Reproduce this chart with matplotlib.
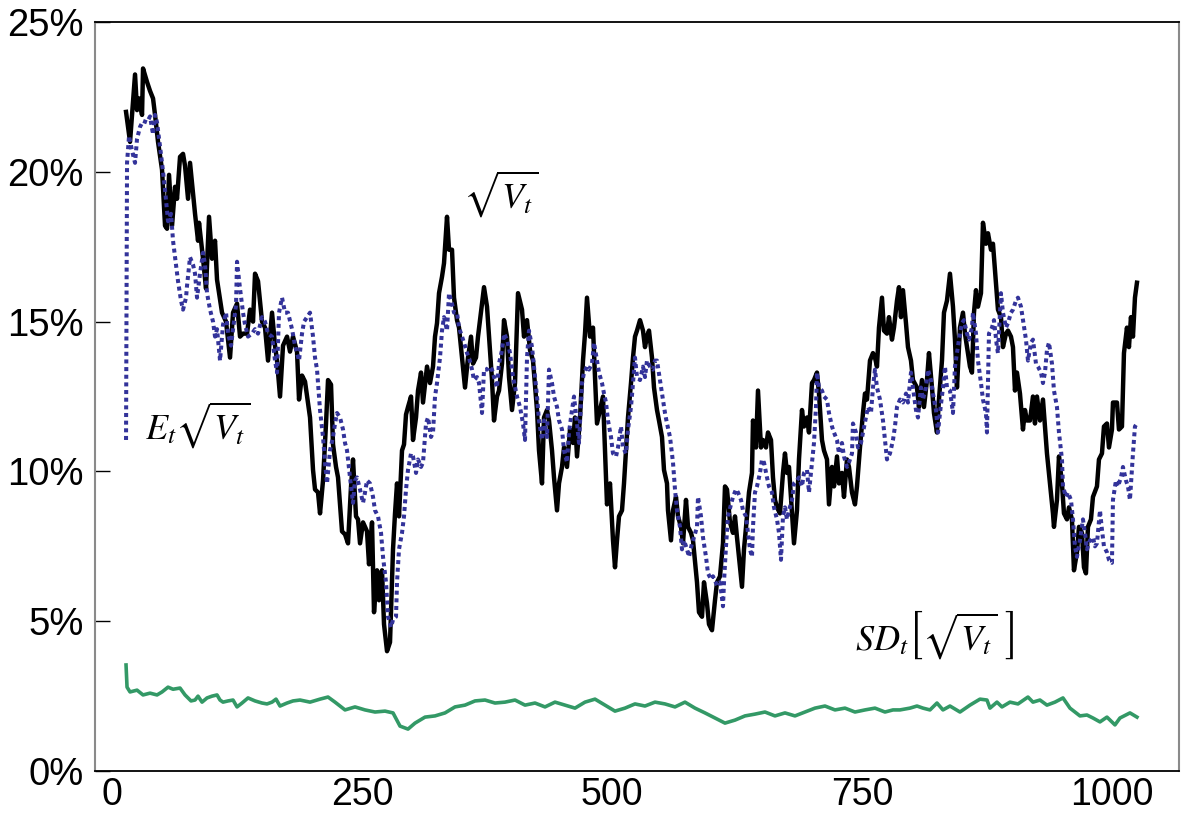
import matplotlib
matplotlib.use("Agg")
import matplotlib.pyplot as plt
from matplotlib.ticker import FuncFormatter

# ---------------- data (values in percent) ----------------
t_black = [14,18,23,25,27,30,31,35,38,41,
           43,46,50,53,55,57,60,63,65,68,
           71,73,76,78,83,86,87,91,94,97,
           100,103,105,110,114,118,121,125,128,131,
           135,138,141,143,146,150,153,156,160,163,
           165,168,171,175,178,181,185,187,190,193,
           198,201,203,206,208,211,214,216,219,221,
           224,226,230,233,236,239,241,244,246,248,
           251,255,257,260,262,265,267,270,272,275,
           278,281,283,285,287,290,292,294,296,299,
           301,304,306,309,311,313,315,318,321,323,
           325,327,330,332,335,337,340,342,345,347,
           350,353,356,359,361,364,366,370,372,375,
           377,380,382,385,387,390,392,395,397,400,
           403,406,410,412,415,418,421,425,427,430,
           432,435,437,440,442,445,447,450,452,455,
           458,461,463,465,468,471,473,475,478,481,
           483,485,488,491,493,495,498,501,503,505,
           507,510,512,514,516,519,521,523,525,528,
           531,533,535,537,540,542,545,547,550,552,
           555,556,559,561,564,566,569,571,574,576,
           579,581,585,587,590,592,595,597,600,603,
           605,608,611,613,615,618,621,623,625,628,
           630,632,635,637,640,641,644,646,649,651,
           654,656,659,661,663,665,668,671,673,675,
           677,680,682,685,687,690,692,695,697,700,
           702,705,707,710,712,715,717,720,722,725,
           727,730,732,735,737,740,743,745,748,751,
           753,755,758,761,763,765,767,770,772,775,
           777,780,782,785,787,789,791,794,796,799,
           801,805,807,810,812,815,817,820,822,825,
           827,830,832,835,838,841,843,845,848,851,
           853,855,858,860,862,864,866,869,871,874,
           876,879,881,884,886,889,891,894,896,899,
           901,903,905,908,911,913,915,918,921,923,
           925,928,931,933,935,938,941,942,945,947,
           950,952,955,957,960,962,965,967,970,972,
           974,976,979,981,985,987,990,992,995,997,
           1000,1001,1005,1007,1010,1012,1015,1017,1019,1021,
           1023,1025]
v_black = [22.0,21.0,23.25,22.06,22.45,21.9,23.45,23.0,22.7,22.45,
           21.9,21.0,20.07,18.2,18.1,19.9,18.2,19.5,19.1,20.5,
           20.6,20.2,19.1,20.3,18.6,17.7,18.3,17.1,16.1,18.5,
           17.1,17.7,16.4,15.3,15.0,13.8,15.3,15.6,14.5,14.6,
           14.6,15.4,15.0,16.6,16.35,15.0,14.8,13.7,15.3,14.2,
           13.7,12.5,14.2,14.5,14.0,14.5,14.0,12.4,13.2,13.0,
           11.8,10.05,9.4,9.3,8.6,9.7,11.6,13.05,12.9,10.9,
           10.15,9.8,8.0,7.9,7.6,9.5,10.4,8.5,8.4,7.6,
           8.3,8.0,6.9,8.3,5.3,6.7,5.7,6.7,4.9,4.0,
           4.3,7.4,8.6,9.6,8.5,10.7,10.9,11.9,12.15,12.5,
           11.05,11.8,12.7,13.3,12.3,12.9,13.5,12.95,13.5,14.5,
           14.95,15.95,16.5,16.95,18.5,17.4,17.4,15.8,15.05,14.8,
           13.8,12.8,13.8,14.5,13.6,13.8,14.5,15.6,16.15,15.5,
           14.5,13.05,11.7,12.5,12.7,13.6,15.05,14.5,13.15,12.05,
           12.95,15.95,15.4,14.5,15.05,14.05,13.7,12.05,10.7,9.6,
           11.8,12.05,11.7,10.7,9.8,8.7,9.6,10.15,10.8,10.15,
           11.4,10.95,11.8,10.5,11.8,13.7,14.6,15.8,14.5,14.8,
           13.15,11.6,12.05,12.5,10.7,8.9,9.6,7.7,6.8,7.7,
           8.5,8.7,9.6,10.7,11.8,12.95,13.8,14.5,14.7,15.05,
           14.7,14.15,14.5,14.7,13.8,12.8,12.05,11.7,11.15,10.05,
           9.6,8.7,7.7,8.7,9.15,8.5,8.15,7.6,9.05,8.15,
           7.95,7.7,6.3,5.3,5.15,6.3,5.6,4.9,4.7,5.7,
           6.3,6.5,7.6,9.5,9.4,8.3,7.95,8.5,7.8,6.8,
           6.15,7.4,8.5,9.3,9.95,11.7,10.8,12.7,10.8,11.05,
           10.8,11.3,11.05,9.8,9.05,8.8,8.6,9.95,10.6,9.95,
           10.15,8.6,7.6,8.7,10.4,12.05,11.5,11.8,11.3,12.95,
           13.05,13.3,12.6,11.05,10.7,10.4,8.9,10.15,9.5,10.5,
           9.6,9.95,9.15,10.4,10.15,9.3,8.9,9.5,10.8,11.95,
           12.6,12.4,13.7,13.95,13.8,13.5,14.8,15.8,14.7,14.6,
           15.15,14.4,14.8,15.7,16.15,15.15,16.05,14.95,14.15,13.7,
           13.05,12.8,12.15,13.05,12.15,13.05,13.95,12.8,11.95,11.3,
           12.4,13.7,15.3,15.7,16.6,15.5,14.4,12.8,14.8,15.3,
           14.6,14.15,13.5,13.3,15.3,16.05,15.5,15.95,18.3,17.6,
           17.95,17.4,17.6,16.3,15.4,15.15,14.15,14.6,14.7,14.5,
           14.15,12.7,13.3,12.6,11.4,12.05,11.7,11.7,12.5,11.6,
           12.5,11.7,12.4,11.5,10.6,9.6,8.6,8.15,9.05,10.5,
           9.6,8.6,8.4,8.8,8.4,6.7,7.3,8.15,7.95,6.8,
           6.6,8.15,8.4,9.15,9.5,10.4,10.6,11.5,11.6,10.8,
           11.4,12.3,12.3,11.4,11.5,13.95,14.8,14.15,15.15,14.5,
           15.8,16.3]

t_blue = [14,15,17,20,23,25,28,31,35,38,
          41,43,45,47,50,53,56,59,61,64,
          66,69,71,74,75,78,81,83,85,88,
          91,93,95,98,101,103,105,108,111,114,
          116,119,121,124,125,128,131,133,136,140,
          143,146,150,153,156,160,163,165,167,170,
          173,176,180,183,185,187,190,192,195,198,
          201,203,205,208,211,213,215,218,221,223,
          225,228,231,233,235,238,241,243,245,248,
          251,253,255,258,261,263,266,269,271,274,
          276,279,281,284,285,287,290,292,294,296,
          299,301,304,306,309,311,314,316,319,321,
          323,325,328,330,332,335,337,340,342,345,
          347,350,352,355,357,360,362,365,367,370,
          372,375,377,380,382,385,387,390,392,395,
          398,401,405,408,411,413,415,417,420,422,
          425,427,430,432,435,437,440,442,445,447,
          450,452,455,457,460,462,465,467,470,472,
          475,477,480,482,485,487,490,492,494,496,
          499,501,504,506,509,511,514,516,519,521,
          523,525,528,531,533,535,538,541,543,545,
          548,551,553,555,558,561,563,565,568,570,
          572,575,577,580,582,585,586,589,591,594,
          596,599,601,605,608,611,612,614,616,619,
          621,624,626,629,631,634,636,638,640,641,
          643,645,648,650,652,655,657,660,662,665,
          667,669,671,673,675,677,680,682,685,687,
          690,692,695,697,700,702,704,705,707,710,
          712,715,717,720,722,725,727,730,732,735,
          737,740,741,744,746,749,751,754,756,759,
          761,763,765,768,771,773,775,778,781,783,
          785,788,791,794,796,799,801,804,806,809,
          811,814,816,819,821,824,826,828,831,833,
          835,838,841,843,845,847,850,852,855,857,
          860,861,864,866,869,871,874,875,877,880,
          882,885,886,889,891,894,896,899,901,904,
          906,909,911,914,916,919,921,924,926,929,
          931,933,935,937,940,942,945,947,950,951,
          954,956,959,961,963,965,968,971,973,975,
          978,981,983,985,988,990,992,995,997,1000,
          1001,1004,1006,1009,1011,1014,1016,1018,1021,1023,
          1025]
v_blue = [11.05,20.3,21.2,20.7,20.3,21.1,21.5,21.7,21.65,21.85,
          21.25,21.9,21.65,21.1,20.3,19.4,18.35,18.6,17.7,16.9,
          16.35,15.7,15.4,15.8,16.2,17.15,16.9,16.6,15.8,16.6,
          17.3,16.9,15.95,15.4,15.0,14.5,14.75,13.7,14.9,15.3,
          14.6,14.2,14.75,15.55,17.0,16.1,15.3,14.9,14.5,14.6,
          14.75,14.6,15.15,15.0,14.6,14.5,13.7,13.3,15.3,15.8,
          15.3,15.3,14.75,14.2,13.95,13.7,14.6,15.0,15.15,15.3,
          14.5,13.8,13.4,12.05,11.15,10.3,9.6,10.7,11.15,11.6,
          11.95,11.8,11.4,10.95,10.7,9.8,8.95,9.7,9.8,9.4,
          8.95,9.3,9.7,9.6,9.15,8.7,8.5,7.95,7.15,6.3,
          5.15,4.8,5.05,5.15,6.3,7.4,7.95,8.5,9.4,10.05,
          10.6,10.5,9.95,10.4,10.15,10.3,11.6,11.8,11.15,11.3,
          12.5,12.95,13.8,14.7,15.15,14.7,15.95,15.6,15.3,15.3,
          14.8,14.5,14.3,13.95,13.8,13.4,13.05,13.15,12.95,11.95,
          13.4,13.4,13.5,13.4,13.15,12.8,13.6,14.05,14.6,14.4,
          13.95,13.15,12.5,12.15,11.6,11.05,13.8,14.7,14.15,13.5,
          12.5,11.7,11.05,11.7,11.15,13.4,12.95,12.5,12.15,11.7,
          11.4,10.7,10.3,11.3,12.05,12.5,11.6,10.95,12.95,13.3,
          13.5,13.4,13.6,14.3,13.7,13.3,12.95,12.6,12.3,11.7,
          11.15,10.6,10.5,10.8,11.5,10.8,10.6,11.4,12.15,12.95,
          13.8,13.15,13.05,13.5,13.15,13.7,13.5,13.4,13.7,13.7,
          13.05,12.4,11.95,11.6,11.15,10.3,9.4,8.7,8.15,7.4,
          7.7,7.4,7.15,7.6,7.8,8.15,9.15,8.5,7.8,7.15,
          6.6,6.4,6.5,6.2,6.3,5.5,6.3,7.5,8.5,8.9,
          9.15,9.4,9.3,9.05,8.7,8.5,7.95,7.4,7.15,8.15,
          9.3,9.5,9.95,10.4,10.3,9.8,9.5,9.3,8.8,8.4,
          7.95,7.05,8.5,8.8,8.4,8.7,9.05,9.6,9.7,9.8,
          9.5,9.95,10.05,9.3,10.3,10.95,12.15,13.3,12.8,12.7,
          12.5,12.4,11.95,11.5,11.3,11.05,10.6,10.95,10.5,10.15,
          10.3,10.6,11.6,11.3,10.8,10.95,11.3,11.8,12.15,11.95,
          12.8,13.4,12.8,12.4,11.7,11.05,10.4,10.6,11.05,11.5,
          12.15,12.4,12.3,12.6,12.3,13.3,12.8,12.05,11.8,12.8,
          12.4,12.8,13.4,13.05,12.6,12.05,11.3,11.95,12.8,13.5,
          12.8,12.7,11.95,13.5,13.95,14.4,14.95,15.05,14.6,14.4,
          14.8,15.3,14.6,13.7,12.95,12.4,11.95,11.3,14.6,14.8,
          15.05,14.15,13.95,15.95,15.3,14.8,14.95,15.3,15.4,15.7,
          15.8,15.5,15.05,14.4,13.7,14.3,14.4,13.6,13.5,13.3,
          12.95,13.3,14.05,14.3,13.6,12.7,12.15,11.3,10.4,9.5,
          9.15,9.3,9.05,8.4,7.5,7.15,7.7,8.4,7.95,7.4,
          7.7,7.8,7.5,7.6,8.7,8.05,7.5,7.3,7.05,6.95,
          9.05,9.7,9.5,9.8,10.15,9.7,9.5,9.05,10.6,11.5,
          11.6]

t_green = [14,15,18,25,31,38,45,50,56,61,
           68,73,79,83,86,90,95,100,105,108,
           111,116,121,125,130,136,143,150,155,160,
           164,168,175,181,188,198,208,216,223,233,
           243,253,263,273,281,288,296,303,313,323,
           333,343,353,363,373,383,393,403,413,423,
           433,443,453,463,473,483,493,503,513,523,
           533,543,553,563,573,583,593,603,613,623,
           633,643,653,663,673,683,693,703,713,723,
           733,743,753,763,773,781,788,798,805,811,
           818,825,831,838,848,858,868,875,878,885,
           890,898,906,916,921,928,935,943,951,958,
           968,975,981,988,995,1003,1008,1018,1025]
v_green = [3.54,2.8,2.64,2.7,2.54,2.6,2.54,2.64,2.8,2.73,
           2.77,2.54,2.34,2.37,2.5,2.3,2.44,2.5,2.54,2.37,
           2.3,2.34,2.37,2.14,2.27,2.44,2.34,2.27,2.24,2.3,
           2.4,2.17,2.27,2.34,2.37,2.3,2.4,2.47,2.3,2.04,
           2.14,2.04,1.97,2.0,1.94,1.5,1.4,1.6,1.8,1.84,
           1.94,2.14,2.2,2.34,2.37,2.27,2.3,2.37,2.2,2.27,
           2.14,2.3,2.2,2.1,2.3,2.4,2.2,2.0,2.1,2.24,
           2.17,2.3,2.24,2.14,2.3,2.1,1.94,1.77,1.6,1.7,
           1.84,1.9,1.97,1.84,1.94,1.84,1.97,2.1,2.17,2.04,
           2.1,1.97,2.04,2.1,1.97,2.04,2.04,2.1,2.17,2.1,
           2.04,2.27,2.04,2.17,1.97,2.2,2.4,2.37,2.1,2.3,
           2.14,2.3,2.24,2.47,2.3,2.37,2.2,2.3,2.44,2.1,
           1.84,1.87,1.77,1.64,1.8,1.54,1.77,1.94,1.8]

x_ticks = [0, 250, 500, 750, 1000]
y_ticks = [0, 5, 10, 15, 20, 25]

# ---------------- figure ----------------
plt.rcParams['mathtext.fontset'] = 'stix'
plt.rcParams['font.family'] = ['Liberation Sans', 'DejaVu Sans']

fig = plt.figure(figsize=(11.85, 8.16), dpi=100)
ax = fig.add_axes([0.0802, 0.0551, 0.9147, 0.9179])

ax.plot(t_green, v_green, color='#339966', lw=2.6, solid_joinstyle='round', zorder=2)
ax.plot(t_black, v_black, color='black', lw=3.2, solid_joinstyle='round', zorder=3)
ax.plot(t_blue, v_blue, color='#33339a', lw=2.9, linestyle=(0, (1.0, 0.9)),
        dash_capstyle='butt', zorder=4)

ax.set_xlim(-17, 1067)
ax.set_ylim(0, 25)
ax.set_xticks(x_ticks)
ax.set_yticks(y_ticks)
ax.yaxis.set_major_formatter(FuncFormatter(lambda v, p: f"{v:.0f}%"))

ax.tick_params(axis='y', direction='in', length=11, width=1.0, pad=8,
               labelsize=27.5, colors='black')
ax.tick_params(axis='x', length=0, pad=4, labelsize=27)

for side in ['left', 'right']:
    ax.spines[side].set_color('#8a8a8a')
    ax.spines[side].set_linewidth(1.5)
for side in ['top', 'bottom']:
    ax.spines[side].set_color('black')
    ax.spines[side].set_linewidth(1.3)

ax.text(33, 11.1, r'$E_t\sqrt{V_t}$', fontsize=26, ha='left', va='baseline')
ax.text(351, 18.8, r'$\sqrt{V_t}$', fontsize=26, ha='left', va='baseline')
ax.text(743, 4.05, r'$SD_t\left[\sqrt{V_t}\ \right]$', fontsize=26, ha='left', va='baseline')

fig.savefig('out.png', dpi=100)
